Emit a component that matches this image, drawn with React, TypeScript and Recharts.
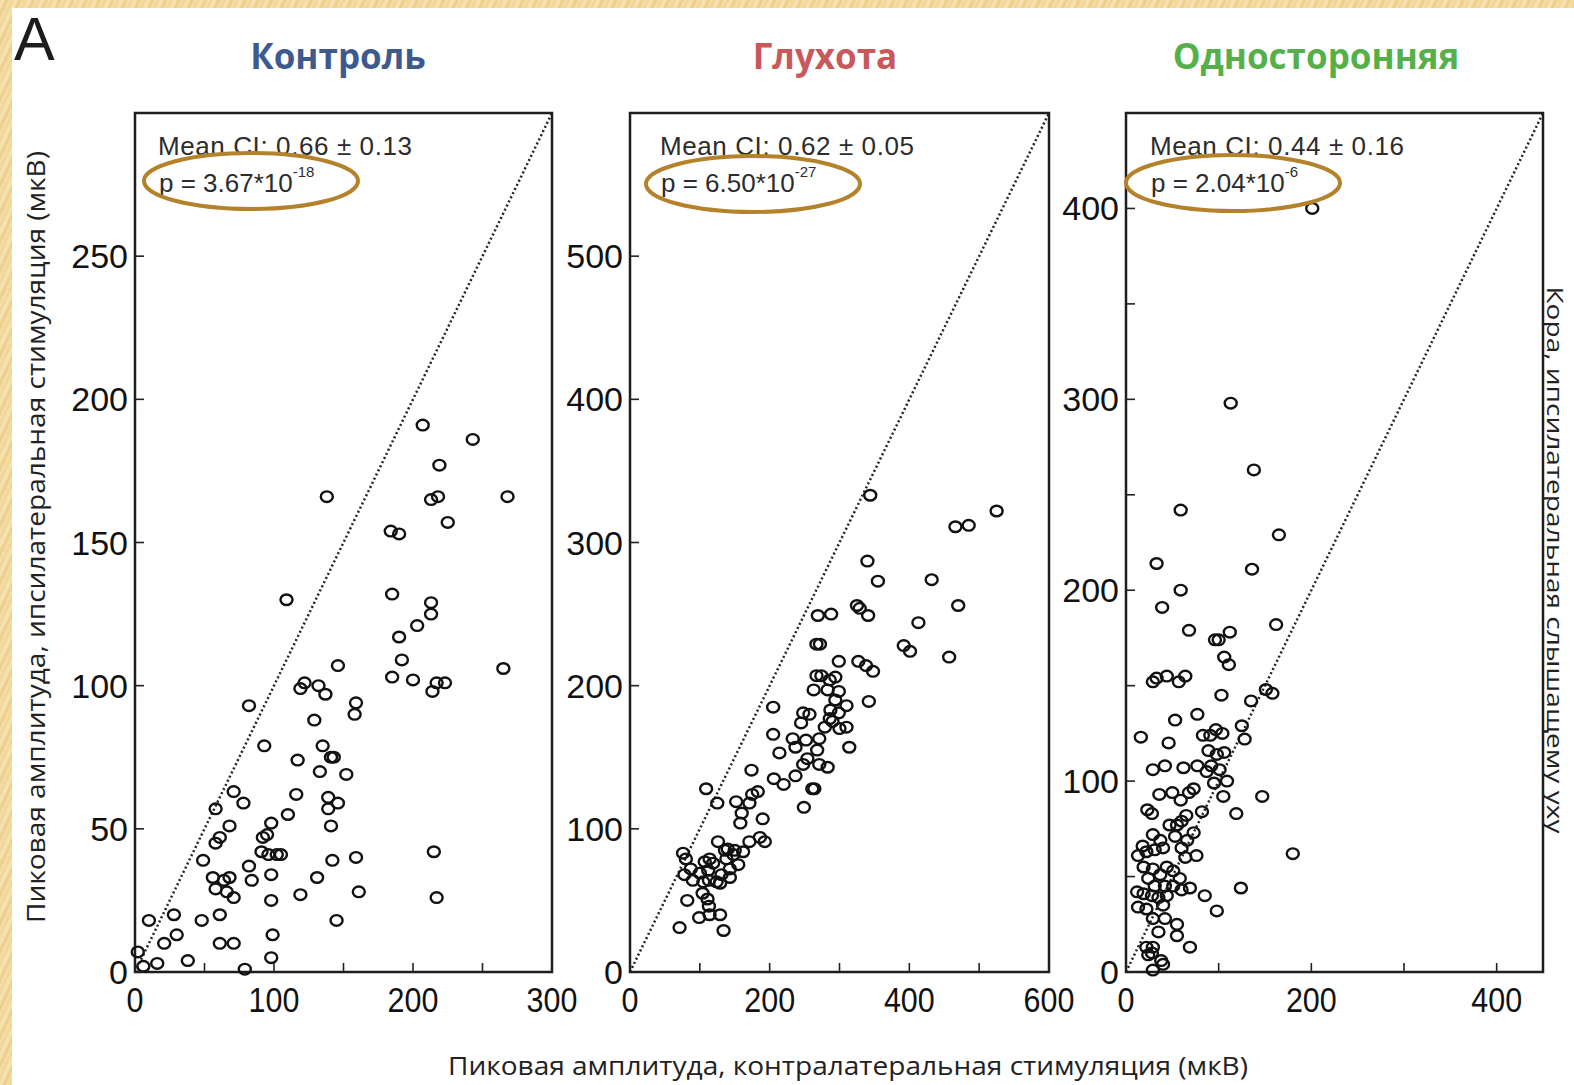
import React from 'react';
import { ScatterChart, Scatter, XAxis, YAxis, ReferenceLine, ReferenceArea } from 'recharts';

// Peak amplitude pairs [contralateral, ipsilateral], µV
const controlPoints: [number, number][] = [
  [207, 191], [243, 186], [219, 177], [138, 166], [213, 165], [218, 166], [268, 166], [225, 157],
  [184, 154], [190, 153], [109, 130], [185, 132], [213, 129], [213, 125], [203, 121], [190, 117],
  [192, 109], [146, 107], [265, 106], [185, 103], [200, 102], [217, 101], [223, 101], [214, 98],
  [119, 99], [122, 101], [132, 100], [137, 97], [82, 93], [159, 94], [158, 90], [129, 88],
  [93, 79], [135, 79], [141, 75], [143, 75], [117, 74], [133, 70], [152, 69], [71, 63],
  [116, 62], [78, 59], [58, 57], [139, 61], [139, 57], [146, 59], [110, 55], [68, 51],
  [98, 52], [141, 51], [61, 47], [58, 45], [92, 47], [95, 48], [91, 42], [96, 41],
  [105, 41], [102, 41], [49, 39], [142, 39], [159, 40], [215, 42], [82, 37], [56, 33],
  [64, 32], [68, 33], [58, 29], [66, 28], [71, 26], [84, 32], [98, 34], [131, 33],
  [119, 27], [161, 28], [98, 25], [217, 26], [10, 18], [28, 20], [48, 18], [61, 20],
  [145, 18], [30, 13], [21, 10], [61, 10], [71, 10], [99, 13], [2, 7], [6, 2],
  [16, 3], [38, 4], [79, 1], [98, 5],
];

const deafPoints: [number, number][] = [
  [344, 333], [525, 322], [466, 311], [485, 312], [340, 287], [355, 273], [432, 274], [470, 256],
  [325, 256], [329, 254], [341, 249], [269, 249], [288, 250], [413, 244], [267, 229], [272, 229],
  [392, 228], [401, 224], [457, 220], [299, 217], [327, 217], [338, 214], [348, 210], [267, 207],
  [274, 207], [286, 204], [294, 206], [263, 197], [283, 197], [299, 196], [342, 189], [294, 190],
  [310, 186], [287, 183], [299, 181], [205, 185], [248, 181], [257, 180], [245, 174], [286, 177],
  [290, 175], [279, 171], [300, 170], [310, 171], [205, 166], [233, 163], [252, 162], [271, 163],
  [237, 157], [214, 153], [268, 155], [314, 157], [254, 149], [248, 145], [271, 145], [283, 143],
  [174, 141], [206, 135], [220, 131], [237, 137], [261, 128], [264, 128], [249, 115], [109, 128],
  [125, 118], [152, 119], [171, 118], [175, 124], [183, 126], [160, 111], [158, 104], [190, 107],
  [126, 91], [140, 86], [150, 85], [162, 84], [171, 91], [186, 94], [193, 91], [76, 83],
  [80, 79], [114, 79], [107, 77], [119, 76], [87, 72], [100, 69], [112, 71], [138, 79],
  [143, 72], [155, 75], [131, 68], [143, 66], [124, 63], [90, 64], [105, 63], [129, 62],
  [104, 55], [111, 51], [82, 50], [113, 46], [114, 40], [129, 40], [99, 38], [71, 31],
  [134, 29], [148, 82], [136, 85], [113, 64], [78, 68],
];

const unilateralPoints: [number, number][] = [
  [201, 400], [113, 298], [138, 263], [59, 242], [165, 229], [33, 214], [136, 211], [59, 200],
  [39, 191], [162, 182], [68, 179], [96, 174], [100, 174], [112, 178], [106, 165], [111, 161],
  [29, 152], [33, 154], [44, 155], [57, 152], [64, 155], [103, 145], [135, 142], [151, 148],
  [158, 146], [77, 135], [53, 132], [16, 123], [46, 120], [125, 129], [128, 122], [83, 124],
  [91, 124], [97, 127], [104, 125], [89, 116], [98, 114], [106, 115], [29, 106], [42, 108],
  [62, 107], [77, 108], [87, 105], [92, 108], [101, 106], [109, 100], [95, 99], [105, 92],
  [147, 92], [36, 93], [50, 94], [59, 90], [68, 94], [73, 96], [23, 85], [28, 83],
  [119, 83], [82, 84], [65, 82], [47, 77], [55, 77], [60, 79], [18, 66], [29, 72],
  [37, 69], [73, 73], [13, 61], [22, 63], [31, 64], [40, 65], [53, 71], [60, 65],
  [66, 69], [76, 61], [64, 60], [180, 62], [19, 55], [24, 49], [29, 54], [37, 51],
  [44, 55], [51, 53], [58, 49], [31, 45], [42, 45], [51, 45], [60, 43], [69, 44],
  [12, 42], [19, 41], [28, 40], [35, 39], [44, 40], [85, 40], [124, 44], [13, 34],
  [22, 33], [40, 35], [98, 32], [29, 28], [42, 28], [35, 21], [55, 25], [55, 19],
  [22, 13], [29, 13], [69, 13], [24, 9], [38, 6], [40, 4], [29, 1], [28, 10],
];

// Axis ticks (every tick mark) and the subset that carries a number
const controlXTicks = [0, 50, 100, 150, 200, 250, 300];
const controlXLabels = [0, 100, 200, 300];
const controlYTicks = [0, 50, 100, 150, 200, 250, 300];
const controlYLabels = [0, 50, 100, 150, 200, 250];

const deafXTicks = [0, 100, 200, 300, 400, 500, 600];
const deafXLabels = [0, 200, 400, 600];
const deafYTicks = [0, 100, 200, 300, 400, 500, 600];
const deafYLabels = [0, 100, 200, 300, 400, 500];

const unilateralXTicks = [0, 100, 200, 300, 400];
const unilateralXLabels = [0, 200, 400];
const unilateralYTicks = [0, 50, 100, 150, 200, 250, 300, 350, 400, 450];
const unilateralYLabels = [0, 100, 200, 300, 400];

const panelTitles = ['Контроль', 'Глухота', 'Односторонняя'];
const meanCI = ['Mean CI: 0.66 ± 0.13', 'Mean CI: 0.62 ± 0.05', 'Mean CI: 0.44 ± 0.16'];
const pMantissa = ['3.67', '6.50', '2.04'];
const pExponent = ['-18', '-27', '-6'];

const xAxisTitle = 'Пиковая амплитуда, контралатеральная стимуляция (мкВ)';
const yAxisTitle = 'Пиковая амплитуда, ипсилатеральная стимуляция (мкВ)';
const sideTitle = 'Кора, ипсилатеральная слышащему уху';

// Layout
const PLOT_TOP = 113;
const PLOT_H = 859;
const Y_AXIS_W = 90;
const X_AXIS_H = 70;
const M_TOP = 12;
const M_RIGHT = 40;

const ARIAL = "'Liberation Sans', Arial, Helvetica, sans-serif";
const SANS = "'Open Sans', 'Noto Sans', sans-serif";

const toXY = (pts: [number, number][]) => pts.map(([x, y]) => ({ x, y }));

const panels = [
  {
    key: 'control', data: toXY(controlPoints), max: 300,
    xTicks: controlXTicks, xLabels: controlXLabels, yTicks: controlYTicks, yLabels: controlYLabels,
    left: 135, width: 417, color: '#3e5a8d', titleX: 338, textX: 158,
    ellipse: { cx: 251, cy: 181 },
  },
  {
    key: 'deaf', data: toXY(deafPoints), max: 600,
    xTicks: deafXTicks, xLabels: deafXLabels, yTicks: deafYTicks, yLabels: deafYLabels,
    left: 630, width: 419, color: '#c9585b', titleX: 825, textX: 660,
    ellipse: { cx: 753, cy: 184 },
  },
  {
    key: 'unilateral', data: toXY(unilateralPoints), max: 450,
    xTicks: unilateralXTicks, xLabels: unilateralXLabels, yTicks: unilateralYTicks, yLabels: unilateralYLabels,
    left: 1126, width: 417, color: '#55b04a', titleX: 1316, textX: 1150,
    ellipse: { cx: 1233, cy: 183 },
  },
];

const ring = (props: any) => (
  <ellipse cx={props.cx} cy={props.cy} rx={6} ry={5.3} fill="none" stroke="#111" strokeWidth={2.4} />
);

const makeXTick = (labels: number[]) => (props: any) => {
  const { x, y, payload } = props;
  return (
    <g>
      <line x1={x} y1={y} x2={x} y2={y - 9} stroke="#222" strokeWidth={1.6} />
      {labels.includes(payload.value) && (
        <text
          transform={`translate(${x},${y + 40}) scale(0.87,1)`}
          textAnchor="middle"
          fontSize={35}
          fontFamily={ARIAL}
          fill="#111"
        >
          {payload.value}
        </text>
      )}
    </g>
  );
};

const makeYTick = (labels: number[]) => (props: any) => {
  const { x, y, payload } = props;
  return (
    <g>
      <line x1={x} y1={y} x2={x + 9} y2={y} stroke="#222" strokeWidth={1.6} />
      {labels.includes(payload.value) && (
        <text x={x - 7} y={y + 12} textAnchor="end" fontSize={34} fontFamily={ARIAL} fill="#111">
          {payload.value}
        </text>
      )}
    </g>
  );
};

const paperTexture =
  'repeating-linear-gradient(115deg, #f3d99c 0px, #f7e4b6 3px, #eccd86 6px, #f5dea8 9px, #efd390 12px)';

export default function App() {
  return (
    <div
      style={{
        position: 'absolute',
        left: 0,
        top: 0,
        width: 1574,
        height: 1085,
        overflow: 'hidden',
        background: paperTexture,
      }}
    >
      <div style={{ position: 'absolute', left: 12, top: 8, right: 0, bottom: 0, background: '#ffffff' }} />

      {panels.map((p) => (
        <div
          key={p.key}
          style={{ position: 'absolute', left: p.left - Y_AXIS_W, top: PLOT_TOP - M_TOP }}
        >
          <ScatterChart
            width={Y_AXIS_W + p.width + M_RIGHT}
            height={M_TOP + PLOT_H + X_AXIS_H}
            margin={{ top: M_TOP, right: M_RIGHT, bottom: 0, left: 0 }}
          >
            <XAxis
              type="number"
              dataKey="x"
              domain={[0, p.max]}
              ticks={p.xTicks}
              interval={0}
              tickSize={0}
              tickMargin={0}
              tickLine={false}
              axisLine={false}
              height={X_AXIS_H}
              tick={makeXTick(p.xLabels)}
            />
            <YAxis
              type="number"
              dataKey="y"
              domain={[0, p.max]}
              ticks={p.yTicks}
              interval={0}
              tickSize={0}
              tickMargin={0}
              tickLine={false}
              axisLine={false}
              width={Y_AXIS_W}
              tick={makeYTick(p.yLabels)}
            />
            <ReferenceArea
              x1={0}
              x2={p.max}
              y1={0}
              y2={p.max}
              fill="none"
              fillOpacity={0}
              stroke="#1e1e1e"
              strokeWidth={2.5}
              ifOverflow="visible"
            />
            <ReferenceLine
              segment={[{ x: 0, y: 0 }, { x: p.max, y: p.max }]}
              stroke="#222"
              strokeWidth={2.5}
              strokeDasharray="2 2.6"
              ifOverflow="visible"
            />
            <Scatter data={p.data} shape={ring} isAnimationActive={false} />
          </ScatterChart>
        </div>
      ))}

      <svg
        width={1574}
        height={1085}
        style={{ position: 'absolute', left: 0, top: 0, pointerEvents: 'none' }}
      >
        <text x={14} y={60} fontSize={61} fontFamily={ARIAL} fill="#1c1c1c">A</text>

        {panels.map((p, i) => (
          <g key={p.key}>
            <text
              x={p.titleX}
              y={69}
              textAnchor="middle"
              fontSize={35}
              fontWeight={700}
              fontFamily={SANS}
              fill={p.color}
            >
              {panelTitles[i]}
            </text>
            <text
              x={p.textX}
              y={155}
              fontSize={26}
              fontFamily={ARIAL}
              fill="#2c2c2c"
              textLength={254}
              lengthAdjust="spacing"
            >
              {meanCI[i]}
            </text>
            <text x={p.textX + 1} y={192} fontSize={26} fontFamily={ARIAL} fill="#2c2c2c">
              {`p = ${pMantissa[i]}*10`}
              <tspan dy={-15} fontSize={15}>{pExponent[i]}</tspan>
            </text>
            <ellipse
              cx={p.ellipse.cx}
              cy={p.ellipse.cy}
              rx={107}
              ry={28}
              fill="none"
              stroke="#b3822a"
              strokeWidth={4}
            />
          </g>
        ))}

        <text
          x={848}
          y={1075}
          textAnchor="middle"
          fontSize={25}
          fontFamily={SANS}
          fill="#222"
          textLength={800}
          lengthAdjust="spacingAndGlyphs"
        >
          {xAxisTitle}
        </text>
        <text
          transform="translate(45,537) rotate(-90)"
          textAnchor="middle"
          fontSize={25}
          fontFamily={SANS}
          fill="#222"
          textLength={772}
          lengthAdjust="spacingAndGlyphs"
        >
          {yAxisTitle}
        </text>
        <text
          transform="translate(1547,560) rotate(90)"
          textAnchor="middle"
          fontSize={22}
          fontFamily={SANS}
          fill="#222"
          textLength={547}
          lengthAdjust="spacingAndGlyphs"
        >
          {sideTitle}
        </text>
      </svg>
    </div>
  );
}
